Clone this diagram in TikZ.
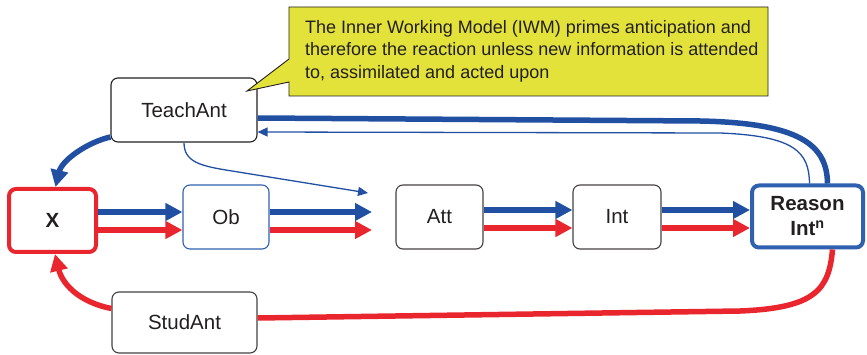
\documentclass[tikz,border=0pt]{standalone}
\usepackage{fontspec}
\setmainfont{Liberation Sans}
\usetikzlibrary{arrows.meta}
\definecolor{cblue}{RGB}{33,80,162}
\definecolor{cboxblue}{RGB}{48,96,176}
\definecolor{cred}{RGB}{233,38,46}
\definecolor{cyel}{RGB}{226,226,58}
\definecolor{ink}{RGB}{35,31,32}
\begin{document}
\begin{tikzpicture}[x=1pt,y=-1pt,
  box/.style={draw=ink, line width=1.1pt, rounded corners=7pt, fill=white,
    text=ink, font=\fontsize{20.5}{25}\selectfont, align=center, inner sep=0pt,
    minimum height=64pt},
  fatline/.style={line width=5.5pt},
  fatarrow/.style={line width=5.5pt, -{Triangle[length=17pt,width=17pt]}},
  thinarrow/.style={line width=1.3pt, cblue, -{Triangle[length=10pt,width=9pt]}},
]
\useasboundingbox (0,0) rectangle (867,355);
\fill[white] (0,0) rectangle (867,355);

% rows of the parallel blue/red arrows
\coordinate (rowA) at (0,212);
\coordinate (rowB) at (0,230);
\coordinate (rowC) at (0,210);
\coordinate (rowD) at (0,228);
\coordinate (obend) at (372,0);
\coordinate (tipA) at (368,193);

% boxes
\node[box, minimum width=146pt] (teach) at (184,110) {TeachAnt};
\node[box, draw=cred, line width=4pt, minimum width=87pt, minimum height=63pt,
  font=\fontsize{20.5}{25}\selectfont\bfseries] (x) at (52.5,220.5) {X};
\node[box, draw=cboxblue, minimum width=86pt] (ob) at (226,217) {Ob};
\node[box, draw=ink!85, minimum width=87pt] (att) at (439.5,217) {Att};
\node[box, draw=ink!85, minimum width=88pt] (int) at (617,217) {Int};
\node[box, draw=cboxblue, line width=4pt, minimum width=111pt, minimum height=62pt,
  font=\fontsize{20.5}{25}\selectfont\bfseries] (reason) at (807.5,216.5) {Reason\\Int\textsuperscript{n}};
\node[box, draw=ink!85, minimum width=145pt, minimum height=61pt] (stud) at (184.5,322.5) {StudAnt};

% forward chain
\draw[fatarrow, cblue] (x.east |- rowA) -- (ob.west |- rowA);
\draw[fatarrow, cred] (x.east |- rowB) -- (ob.west |- rowB);
\draw[fatarrow, cblue] (ob.east |- rowA) -- (obend |- rowA);
\draw[fatarrow, cred] (ob.east |- rowB) -- (obend |- rowB);
\draw[fatarrow, cblue] (att.east |- rowC) -- (int.west |- rowC);
\draw[fatarrow, cred] (att.east |- rowD) -- (int.west |- rowD);
\draw[fatarrow, cblue] (int.east |- rowC) -- (reason.west |- rowC);
\draw[fatarrow, cred] (int.east |- rowD) -- (reason.west |- rowD);

% teacher loop
\draw[fatline, cblue] ([xshift=20pt]reason.north) .. controls (827,145) and (800,123) .. (700,121) -- ([yshift=-8pt]teach.east);
\draw[fatarrow, cblue] ([yshift=-27pt]teach.west) .. controls (88,142) and (62,160) .. ([xshift=3pt]x.north);
\draw[thinarrow] ([xshift=2pt]reason.north) .. controls (809,152) and (795,136) .. (720,133) -- ([yshift=-22pt]teach.east);
\draw[thinarrow] (teach.south) .. controls (184,162) and (200,166) .. (232,171) -- (tipA);

% student loop
\draw[fatline, cred] ([xshift=25pt]reason.south) .. controls (829,290) and (815,308) .. (740,311) -- ([yshift=4.5pt]stud.east);
\draw[fatarrow, cred] ([yshift=14pt]stud.west) .. controls (78,302) and (62,283) .. ([xshift=2.5pt]x.south);

% callout
\draw[fill=cyel, draw=ink, line width=0.9pt] (289,7) -- (768,7) -- (768,96) -- (289,96) -- (289,82) -- (247,91) -- (289,59) -- cycle;
\node[anchor=west, align=left, inner sep=0pt, text=ink,
  font=\fontsize{18}{22.5}\selectfont] (note) at (305,51)
  {The Inner Working Model (IWM) primes anticipation and\\therefore the reaction unless new information is attended\\to, assimilated and acted upon};
\end{tikzpicture}
\end{document}
